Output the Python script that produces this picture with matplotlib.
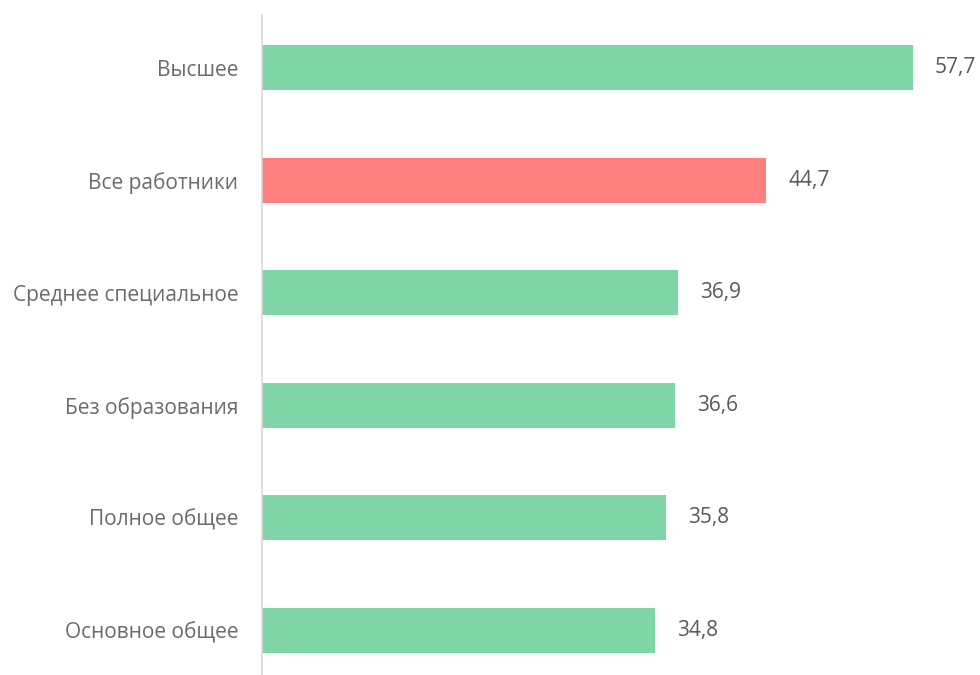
import matplotlib
matplotlib.use("Agg")
import matplotlib.pyplot as plt

categories = [
    "Высшее",
    "Все работники",
    "Среднее специальное",
    "Без образования",
    "Полное общее",
    "Основное общее",
]
values = [57.7, 44.7, 36.9, 36.6, 35.8, 34.8]
highlight = "Все работники"

GREEN = "#7fd5a5"
RED = "#ff7f7f"

plt.rcParams["font.family"] = ["Open Sans", "DejaVu Sans"]

fig = plt.figure(figsize=(9.8, 6.75), dpi=100)
ax = fig.add_axes([262 / 980, 0.0, 1 - 262 / 980, 1 - 15 / 675])

positions = list(range(len(categories)))
colors = [RED if c == highlight else GREEN for c in categories]
ax.barh(positions, values, height=0.4, color=colors)

for pos, val in zip(positions, values):
    ax.annotate(
        f"{val:.1f}".replace(".", ","),
        (val, pos),
        xytext=(16, 0),
        textcoords="offset points",
        va="center",
        ha="left",
        fontsize=15,
        color="#595959",
    )

ax.set_xlim(0, 63.65)
ax.set_ylim(5.4, -0.47)
ax.set_yticks(positions)
ax.set_yticklabels(categories, fontsize=15, color="#6b6b6b")
ax.tick_params(axis="y", length=0, pad=17)
ax.set_xticks([])

for side in ("top", "right", "bottom"):
    ax.spines[side].set_visible(False)
ax.spines["left"].set_color("#d9d9d9")
ax.spines["left"].set_linewidth(1.2)

fig.savefig("out.png", dpi=100)
